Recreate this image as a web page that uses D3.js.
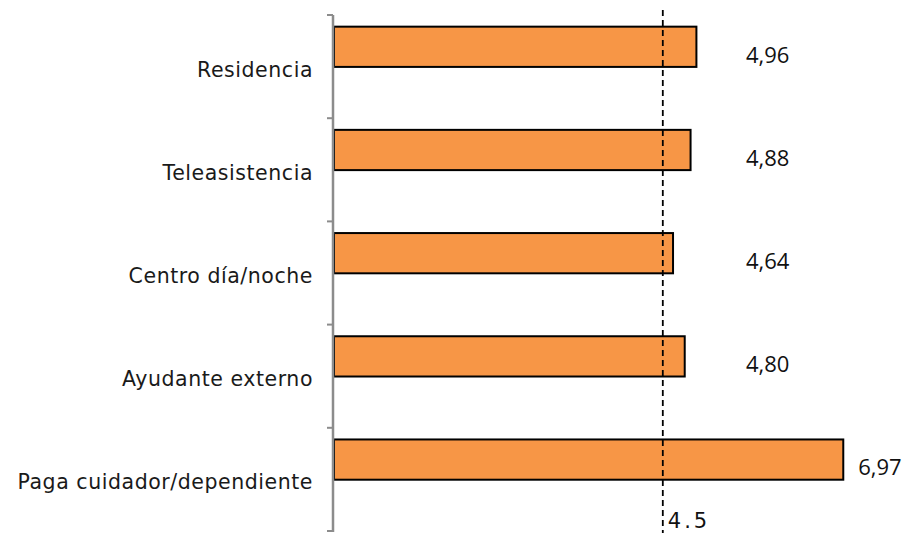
<!DOCTYPE html>
<html lang="es">
<head>
    <meta charset="UTF-8">
    <title>Valoración por tipo de servicio</title>
    <script src="https://d3js.org/d3.v7.min.js"></script>
    <style>
        body { margin: 0; background: #fff; }
        .cat text { font: 20.5px "DejaVu Sans", sans-serif; fill: #1a1a1a; letter-spacing: 0.55px; }
        .value { font: 22px "Open Sans", sans-serif; fill: #111; }
        .ref-label { font: 21px "DejaVu Sans", sans-serif; fill: #111; letter-spacing: 3px; }
    </style>
</head>
<body>
    <script>
        // Chart data
        var categories = ["Residencia", "Teleasistencia", "Centro día/noche", "Ayudante externo", "Paga cuidador/dependiente"];
        var values = [4.96, 4.88, 4.64, 4.80, 6.97];
        var valueLabels = ["4,96", "4,88", "4,64", "4,80", "6,97"];
        var refValue = 4.5;
        var refLabel = "4.5";

        var width = 911, height = 533;
        var margin = {top: 15, right: 29, bottom: 2, left: 334};

        var svg = d3.select("body").append("svg")
            .attr("width", width)
            .attr("height", height);

        var x = d3.scaleLinear()
            .domain([0, 7.5])
            .range([margin.left, width - margin.right]);

        var y = d3.scaleBand()
            .domain(categories)
            .range([margin.top, height - margin.bottom])
            .padding(0);

        var bw = y.bandwidth();

        // Bars
        svg.selectAll(".bar")
            .data(values)
            .enter().append("rect")
            .attr("class", "bar")
            .attr("x", x(0))
            .attr("y", function(d, i) { return y(categories[i]) + bw * 0.113; })
            .attr("width", function(d) { return x(d) - x(0); })
            .attr("height", bw * 0.39)
            .attr("fill", "#F79646")
            .attr("stroke", "#000")
            .attr("stroke-width", 2);

        // Reference line
        svg.append("line")
            .attr("x1", x(refValue)).attr("x2", x(refValue))
            .attr("y1", 10).attr("y2", height)
            .attr("stroke", "#000")
            .attr("stroke-width", 1.8)
            .attr("stroke-dasharray", "6,4");

        svg.append("text")
            .attr("class", "ref-label")
            .attr("x", x(refValue) + 5)
            .attr("y", 528)
            .text(refLabel);

        // Category axis
        var axis = d3.axisLeft(y).tickSize(0).tickPadding(20).tickFormat(function(d) { return d; });
        var gAxis = svg.append("g")
            .attr("class", "cat")
            .attr("transform", "translate(" + (x(0) - 1) + ",0)")
            .call(axis);
        gAxis.select(".domain").remove();
        gAxis.selectAll("text").attr("dy", null).attr("y", 10);

        svg.append("line")
            .attr("x1", x(0) - 1).attr("x2", x(0) - 1)
            .attr("y1", margin.top).attr("y2", height - margin.bottom + 1)
            .attr("stroke", "#8c8c8c")
            .attr("stroke-width", 2.5);

        // Tick marks at band boundaries
        var bounds = categories.map(function(c) { return y(c); }).concat([y.range()[1]]);
        svg.selectAll(".tick-mark")
            .data(bounds)
            .enter().append("line")
            .attr("class", "tick-mark")
            .attr("x1", x(0) - 7).attr("x2", x(0) - 1)
            .attr("y1", function(d) { return d; })
            .attr("y2", function(d) { return d; })
            .attr("stroke", "#8c8c8c")
            .attr("stroke-width", 2);

        // Value labels
        svg.selectAll(".value")
            .data(values)
            .enter().append("text")
            .attr("class", "value")
            .attr("x", function(d) { return Math.max(x(d) + 15, 746); })
            .attr("y", function(d, i) { return y(categories[i]) + bw / 2 - 4; })
            .text(function(d, i) { return valueLabels[i]; });
    </script>
</body>
</html>
